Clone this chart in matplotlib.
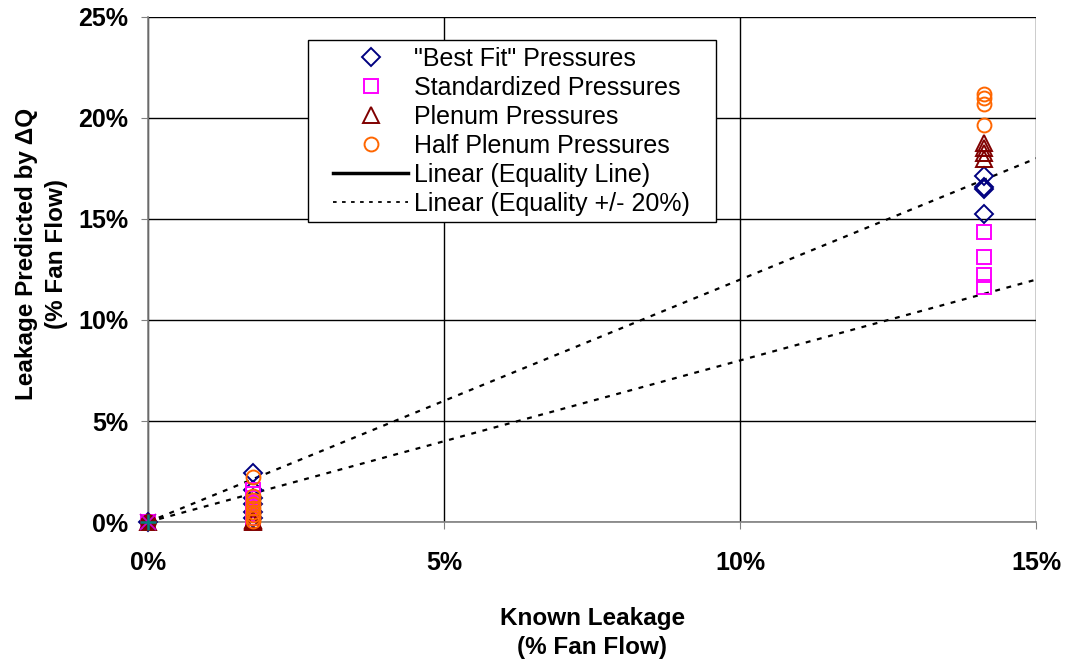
import numpy as np
import matplotlib
matplotlib.use("Agg")
import matplotlib.pyplot as plt
from matplotlib.lines import Line2D
from matplotlib.patches import Rectangle
from matplotlib.ticker import PercentFormatter

plt.rcParams["font.family"] = ["Liberation Sans", "DejaVu Sans"]

# known leakage positions (fraction of fan flow)
x_zero = 0.0
x_low = 0.0177
x_high = 0.1412

# predicted leakage at each known leakage (fraction of fan flow)
best_fit_low = [0.0245, 0.016, 0.012, 0.009, 0.005, 0.002]
best_fit_high = [0.1715, 0.1660, 0.1650, 0.1525]
standard_low = [0.016, 0.014, 0.012, 0.010, 0.008, 0.006, 0.004, 0.002, 0.0005]
standard_high = [0.1437, 0.1313, 0.1223, 0.1165]
plenum_low = [0.0, 0.0005, 0.001]
plenum_high = [0.1875, 0.1850, 0.1825, 0.1795]
half_low = [0.0225, 0.013, 0.011, 0.009, 0.007, 0.005, 0.0035, 0.002, 0.0005]
half_high = [0.2120, 0.2100, 0.2070, 0.1965]

eq_x = [0.0, 0.15]
band_factors = [1.2, 0.8]

series = [
    ('"Best Fit" Pressures', "D", "#000080", best_fit_low, best_fit_high, 9),
    ("Standardized Pressures", "s", "#FF00FF", standard_low, standard_high, 10),
    ("Plenum Pressures", "^", "#800000", plenum_low, plenum_high, 11),
    ("Half Plenum Pressures", "o", "#FF6600", half_low, half_high, 10),
]

fig = plt.figure(figsize=(10.65, 6.65), dpi=100)
ax = fig.add_axes([0.139, 0.215, 0.834, 0.7595])

handles = []
for label, mk, col, lo, hi, ms in series:
    xs = [x_zero] + [x_low] * len(lo) + [x_high] * len(hi)
    ys = [0.0] + lo + hi
    h, = ax.plot(xs, ys, linestyle="none", marker=mk, markersize=ms,
                 markerfacecolor="none", markeredgecolor=col,
                 markeredgewidth=1.4, label=label, zorder=4, clip_on=False)
    handles.append(h)

# extra series at the origin (no legend entries)
ax.plot([0], [0], "o", color="#800000", markersize=11, zorder=5, clip_on=False)
ax.plot([0], [0], "x", color="#CC00CC", markersize=11, mew=1.3, zorder=6,
        clip_on=False)
ax.plot([0], [0], "+", color="#008080", markersize=12, mew=1.8, zorder=6,
        clip_on=False)

# +/- 20% band
for f in band_factors:
    ax.plot(eq_x, [v * f for v in eq_x], color="black", linestyle=(0, (2.2, 3)),
            linewidth=1.6, zorder=3)

handles.append(Line2D([], [], color="black", linewidth=2.5,
                      label="Linear (Equality Line)"))
handles.append(Line2D([], [], color="black", linewidth=1.3, linestyle=(0, (2, 3)),
                      label="Linear (Equality +/- 20%)"))

ax.set_xlim(0, 0.15)
ax.set_ylim(0, 0.25)
ax.set_xticks(np.arange(0, 0.151, 0.05))
ax.set_yticks(np.arange(0, 0.251, 0.05))
ax.xaxis.set_major_formatter(PercentFormatter(1.0, decimals=0))
ax.yaxis.set_major_formatter(PercentFormatter(1.0, decimals=0))
ax.grid(True, color="black", linewidth=1.0)
ax.set_axisbelow(True)
for s in ["top", "right"]:
    ax.spines[s].set_visible(False)
for s in ["left", "bottom"]:
    ax.spines[s].set_color("#808080")
    ax.spines[s].set_linewidth(1.2)

ax.tick_params(axis="both", labelsize=18, length=5, color="#808080")
ax.tick_params(axis="x", pad=16)
ax.tick_params(axis="y", pad=9)
for t in ax.get_xticklabels() + ax.get_yticklabels():
    t.set_fontweight("bold")

ax.set_xlabel("Known Leakage\n(% Fan Flow)", fontsize=17.5, fontweight="bold",
              labelpad=23, linespacing=1.35)
ax.set_ylabel("Leakage Predicted by \u0394Q\n(% Fan Flow)", fontsize=17.5,
              fontweight="bold", linespacing=1.4)
ax.yaxis.set_label_coords(-0.09, 0.53)

# legend box (frame drawn separately for wider side padding)
ax.add_patch(Rectangle((0.180, 0.594), 0.460, 0.360, transform=ax.transAxes,
                       facecolor="white", edgecolor="black", linewidth=1.0,
                       zorder=6))
leg = ax.legend(handles=handles, loc="upper left", bbox_to_anchor=(0.200, 0.955),
                fontsize=18, frameon=False, handlelength=3.0, borderpad=0.3,
                labelspacing=0.2, handletextpad=0.25, borderaxespad=0)
leg.set_zorder(7)

fig.savefig("out.png", dpi=100)
